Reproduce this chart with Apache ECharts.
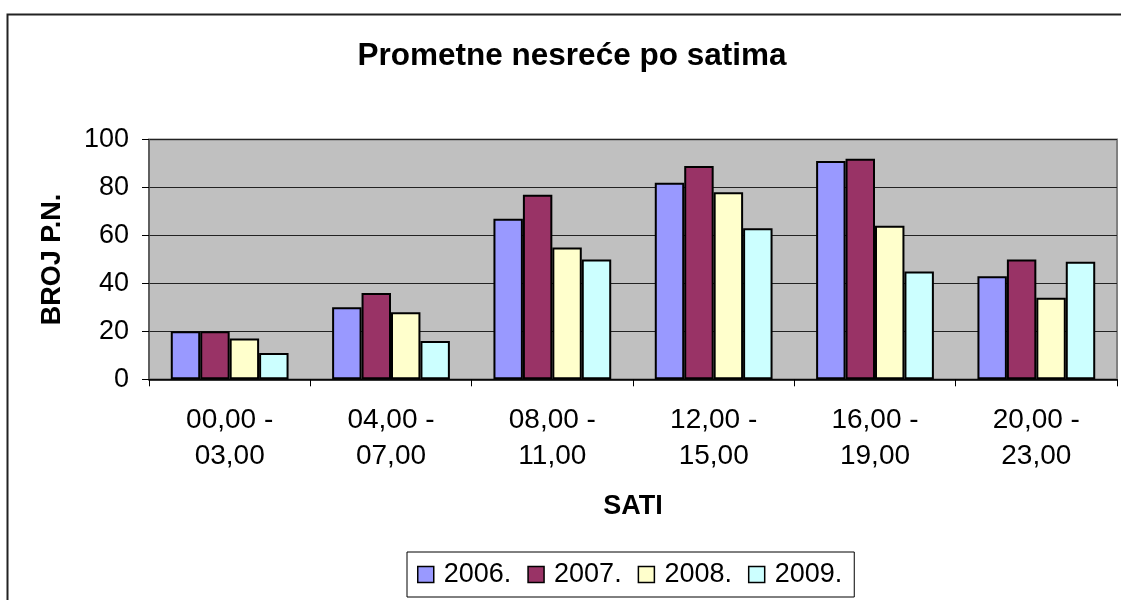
<!DOCTYPE html>
<html>
<head>
<meta charset="utf-8">
<script src="https://cdn.jsdelivr.net/npm/echarts@6/dist/echarts.min.js"></script>
<style>
  html,body{margin:0;padding:0;background:#fff;}
  #chart{width:1121px;height:600px;}
</style>
</head>
<body>
<div id="chart"></div>
<script>
// podaci očitani sa slike
const sati = ['00,00 -\n03,00', '04,00 -\n07,00', '08,00 -\n11,00', '12,00 -\n15,00', '16,00 -\n19,00', '20,00 -\n23,00'];
const godine = ['2006.', '2007.', '2008.', '2009.'];
const boje = ['#9999FF', '#993366', '#FFFFCC', '#CCFFFF'];
const g2006 = [20, 30, 67, 82, 91, 43];
const g2007 = [20, 36, 77, 89, 92, 50];
const g2008 = [17, 28, 55, 78, 64, 34];
const g2009 = [11, 16, 50, 63, 45, 49];
const vrijednosti = [g2006, g2007, g2008, g2009];

const font = "'Liberation Sans', Arial, sans-serif";
const chart = echarts.init(document.getElementById('chart'), null, {renderer: 'canvas'});

let series = godine.map((g, i) => ({
  name: g,
  type: 'bar',
  data: vrijednosti[i],
  barGap: '0%',
  barCategoryGap: '27%',
  itemStyle: {color: boje[i], borderColor: '#000', borderWidth: 2},
  emphasis: {disabled: true}
}));

chart.setOption({
  animation: false,
  backgroundColor: '#fff',
  textStyle: {fontFamily: font},
  title: {
    text: 'Prometne nesreće po satima',
    left: 572,
    textAlign: 'center',
    top: 40,
    padding: 0,
    textStyle: {fontFamily: font, fontSize: 31.5, fontWeight: 'bold', color: '#000'}
  },
  graphic: [{
    type: 'rect',
    shape: {x: 7.5, y: 14.5, width: 1200, height: 700},
    style: {fill: null, stroke: '#222', lineWidth: 2},
    silent: true,
    z: 100
  }],
  legend: {
    data: godine,
    left: 407,
    top: 552,
    padding: [9, 12, 9, 10],
    itemGap: 16,
    itemWidth: 16,
    itemHeight: 16,
    icon: 'rect',
    borderColor: '#000',
    borderWidth: 1,
    itemStyle: {borderColor: '#000', borderWidth: 1.5},
    textStyle: {fontFamily: font, fontSize: 27, color: '#000', padding: [0, 0, 0, 5]}
  },
  grid: {
    left: 149,
    top: 139.5,
    right: 4,
    bottom: 220.7,
    show: true,
    backgroundColor: '#C0C0C0',
    borderColor: '#808080',
    borderWidth: 2
  },
  xAxis: {
    type: 'category',
    data: sati,
    name: 'SATI',
    nameLocation: 'middle',
    nameGap: 114,
    nameTextStyle: {fontFamily: font, fontSize: 27, fontWeight: 'bold', color: '#000'},
    axisLine: {lineStyle: {color: '#000', width: 1.5}},
    axisTick: {show: true, length: 7, lineStyle: {color: '#000', width: 1}},
    axisLabel: {fontFamily: font, fontSize: 28, color: '#000', lineHeight: 36, margin: 23, interval: 0}
  },
  yAxis: {
    type: 'value',
    min: 0,
    max: 100,
    interval: 20,
    name: 'BROJ P.N.',
    nameLocation: 'middle',
    nameGap: 83,
    nameTextStyle: {fontFamily: font, fontSize: 27, fontWeight: 'bold', color: '#000'},
    axisLine: {show: true, lineStyle: {color: '#555', width: 1.5}},
    axisTick: {show: true, length: 7, lineStyle: {color: '#000', width: 1}},
    axisLabel: {fontFamily: font, fontSize: 27, color: '#000', margin: 20},
    splitLine: {show: true, lineStyle: {color: '#222', width: 1}}
  },
  series: series
});
</script>
</body>
</html>
